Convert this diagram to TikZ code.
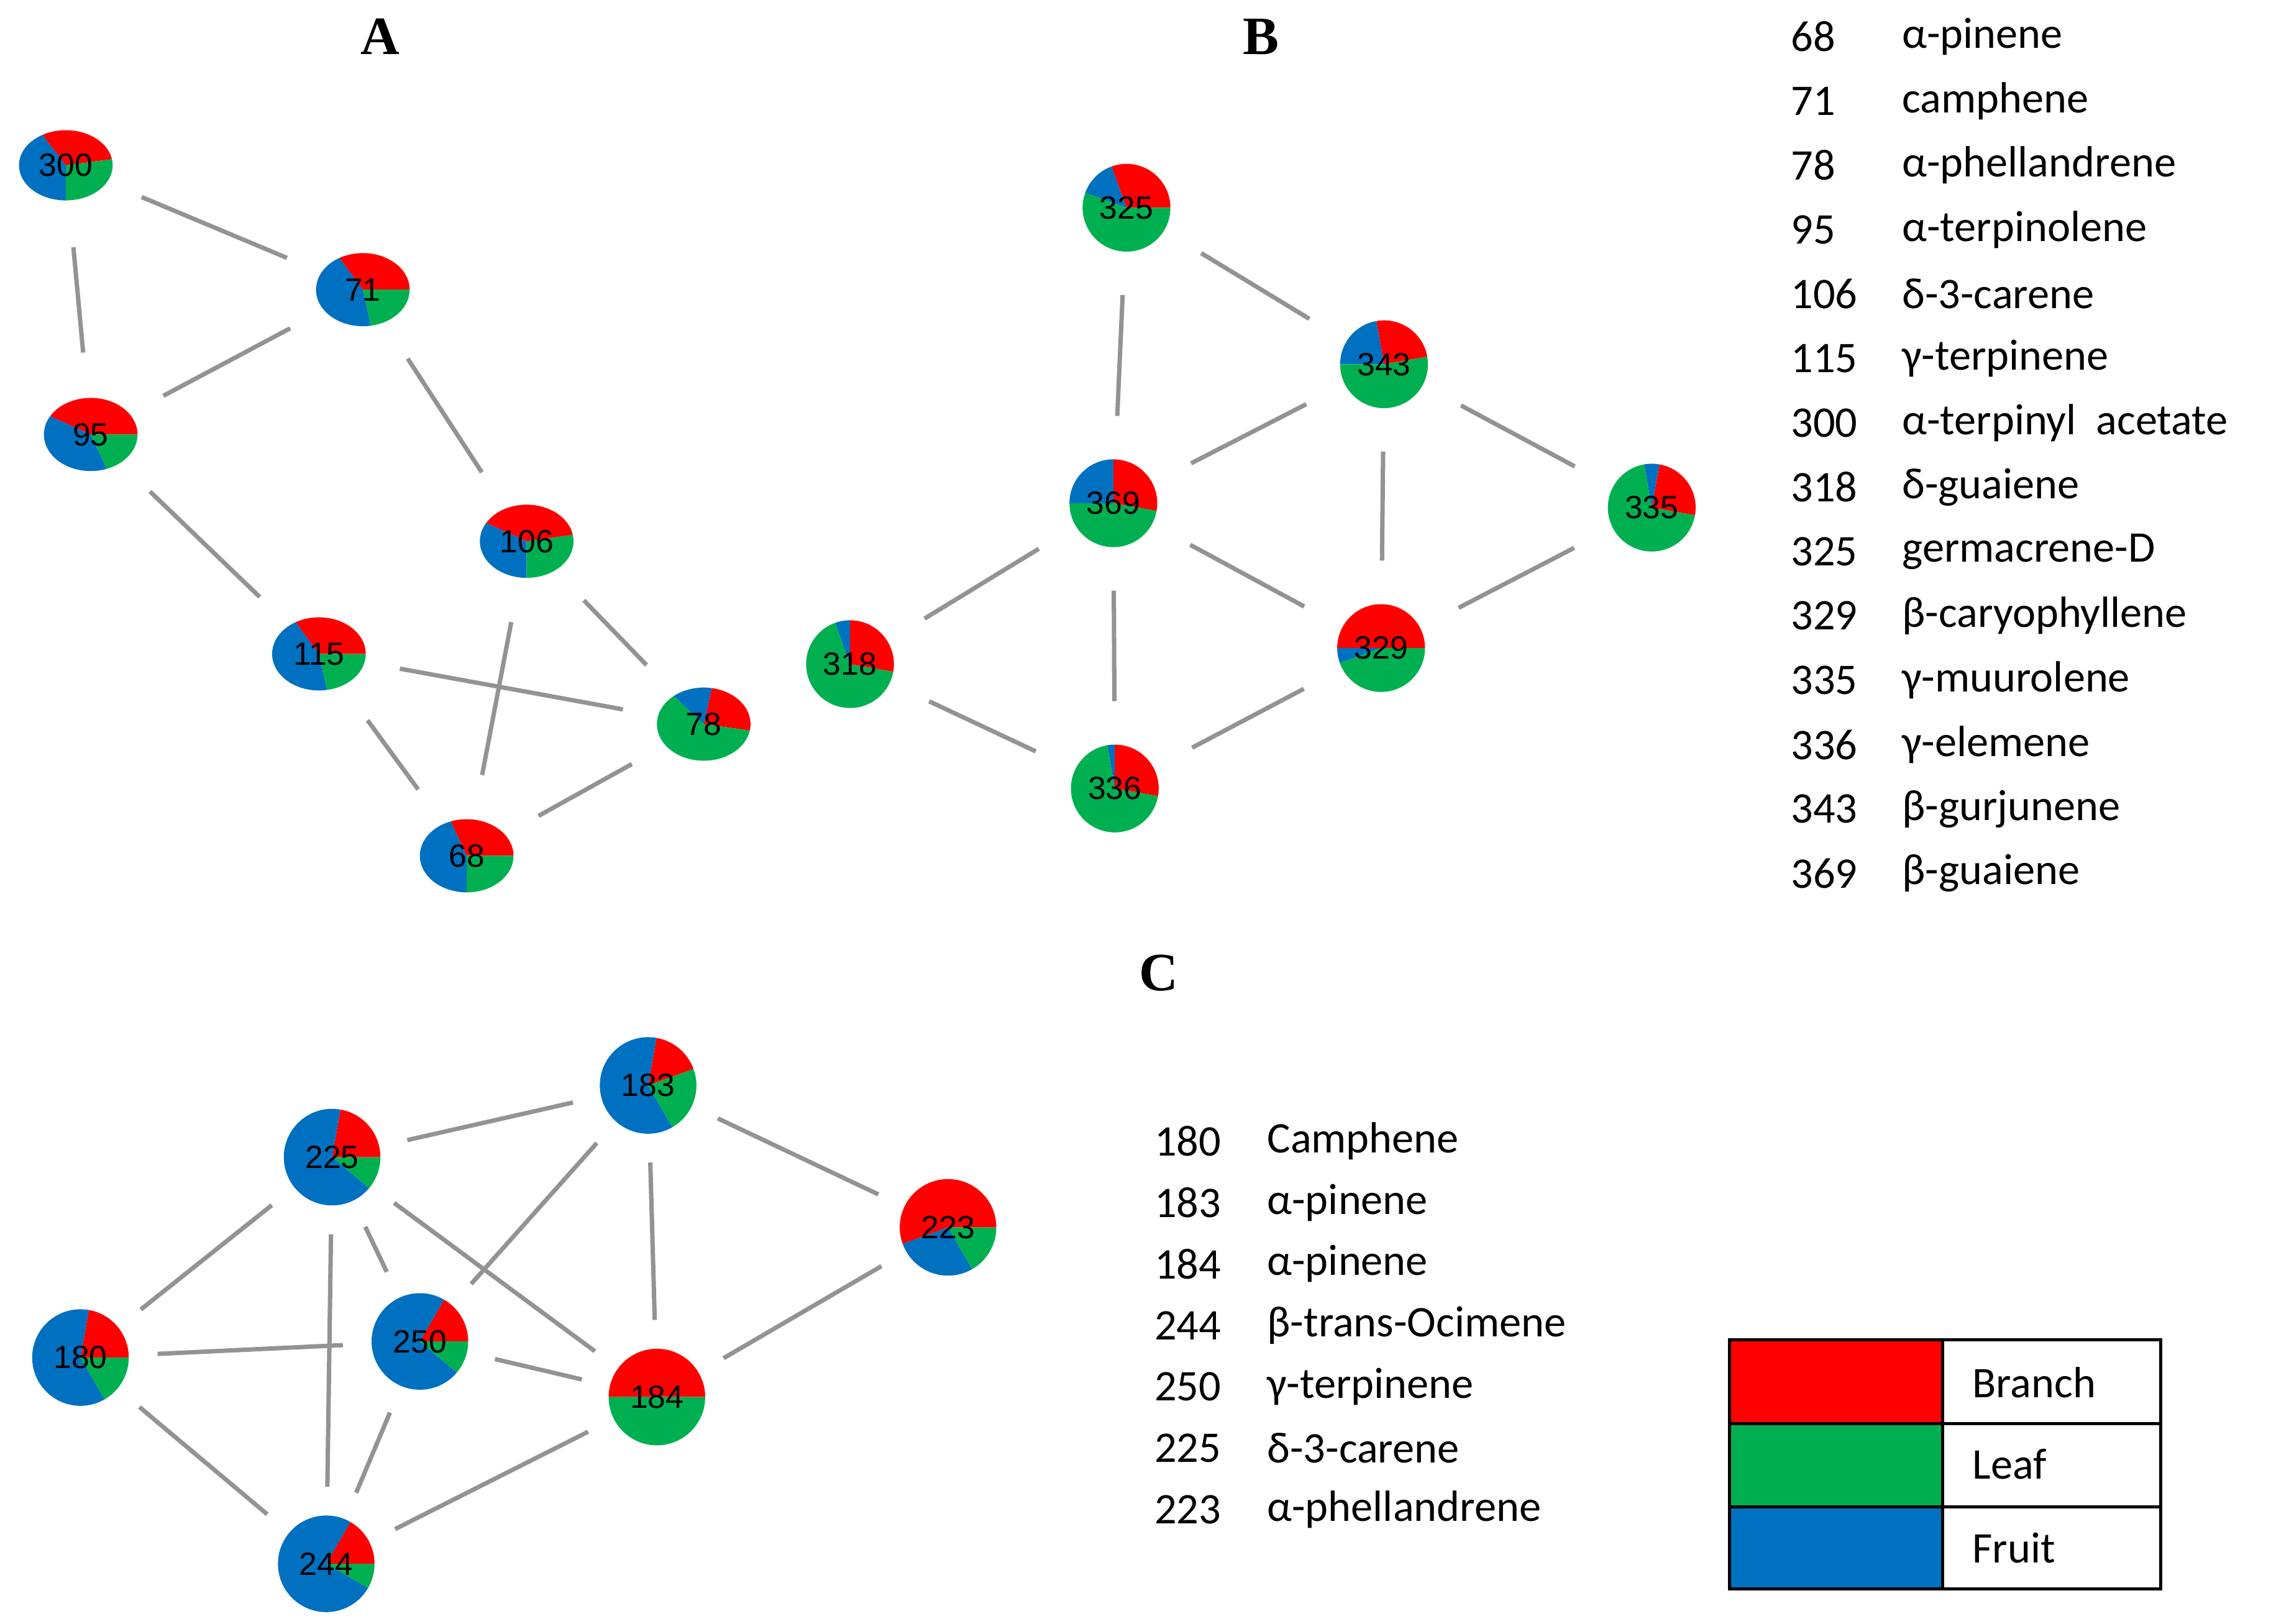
\documentclass[tikz,border=0pt]{standalone}
\usepackage{fontspec}
\setmainfont{Liberation Serif}
\newfontfamily\calfnt{Carlito}
\newfontfamily\arifnt{Liberation Sans}
\definecolor{cR}{RGB}{255,0,0}
\definecolor{cG}{RGB}{0,176,80}
\definecolor{cB}{RGB}{0,112,192}
\newcommand\mypie[8]{%
 \fill[cR] #2 -- ++(#5:#3 and #4) arc[start angle=#5,end angle=#6,x radius=#3,y radius=#4] -- cycle;
 \fill[cB] #2 -- ++(#6:#3 and #4) arc[start angle=#6,end angle=#7,x radius=#3,y radius=#4] -- cycle;
 \fill[cG] #2 -- ++(#7:#3 and #4) arc[start angle=#7,end angle=#5+360,x radius=#3,y radius=#4] -- cycle;
 \node[font=\arifnt\fontsize{12.5}{12.5}\selectfont] (#1) at #2 {#8};}
\begin{document}
\begin{tikzpicture}[x=0.02cm,y=0.02cm,
 ed/.style={draw=gray!85,line width=1.7pt,shorten >=#1,shorten <=#1},ed/.default=38pt,
 lab/.style={font=\bfseries\fontsize{21}{21}\selectfont},
 lt/.style={font=\calfnt\fontsize{17}{17}\selectfont,anchor=west}]
\useasboundingbox (0,0) rectangle (1568,-1110);
\node[lab] (LA) at (260,-25) {A};
\node[lab] (LB) at (862,-25) {B};
\node[lab] (LC) at (792,-665) {C};
% A
\mypie{a300}{(45,-113)}{32}{24}{10}{120}{270}{300}
\mypie{a71}{(248,-198)}{32}{25}{0}{120}{280}{71}
\mypie{a95}{(62,-297)}{32}{25}{0}{150}{290}{95}
\mypie{a106}{(360,-370)}{32}{25}{10}{150}{270}{106}
\mypie{a115}{(218,-447)}{32}{25}{0}{120}{280}{115}
\mypie{a78}{(481,-495)}{32}{25}{-10}{80}{130}{78}
\mypie{a68}{(319,-585)}{32}{25}{0}{110}{270}{68}
\foreach \a/\b in {a300/a71,a300/a95,a95/a71,a71/a106,a95/a115,a106/a78,a106/a68,a115/a78,a115/a68,a68/a78}
 \draw[ed=32pt] (\a.center) -- (\b.center);
% B
\mypie{b325}{(770,-142)}{30}{30}{0}{110}{160}{325}
\mypie{b343}{(946,-249)}{30}{30}{10}{100}{180}{343}
\mypie{b369}{(761,-344)}{30}{30}{-10}{90}{180}{369}
\mypie{b335}{(1129,-347)}{30}{30}{-10}{80}{100}{335}
\mypie{b329}{(944,-443)}{30}{30}{0}{180}{200}{329}
\mypie{b318}{(581,-454)}{30}{30}{-10}{90}{110}{318}
\mypie{b336}{(762,-539)}{30}{30}{-10}{90}{100}{336}
\foreach \a/\b in {b325/b343,b325/b369,b343/b369,b343/b329,b343/b335,b369/b329,b369/b318,b369/b336,b318/b336,b336/b329,b329/b335}
 \draw[ed=34pt] (\a.center) -- (\b.center);
% C
\mypie{c183}{(443,-742)}{33}{33}{20}{80}{300}{183}
\mypie{c225}{(227,-791)}{33}{33}{0}{80}{320}{225}
\mypie{c223}{(648,-839)}{33}{33}{0}{200}{300}{223}
\mypie{c180}{(55,-928)}{33}{33}{0}{80}{300}{180}
\mypie{c250}{(287,-917)}{33}{33}{0}{60}{320}{250}
\mypie{c184}{(449,-955)}{33}{33}{0}{180}{180}{184}
\mypie{c244}{(223,-1069)}{33}{33}{0}{60}{330}{244}
\foreach \a/\b in {c225/c183,c183/c223,c183/c250,c183/c184,c225/c180,c225/c250,c225/c244,c225/c184,c180/c250,c180/c244,c250/c184,c250/c244,c244/c184,c184/c223}
 \draw[ed=30pt] (\a.center) -- (\b.center);
% list B
\foreach \n/\t [count=\i from 0] in {68/α-pinene,71/camphene,78/α-phellandrene,95/α-terpinolene,106/δ-3-carene,115/γ-terpinene,300/{α-terpinyl\ \ acetate},318/δ-guaiene,325/germacrene-D,329/β-caryophyllene,335/γ-muurolene,336/γ-elemene,343/β-gurjunene,369/β-guaiene}{
 \node[lt] (ln\i) at (1218,-25-44*\i) {\n};
 \node[lt] (lt\i) at (1294,-25-44*\i) {\t};}
\foreach \n/\t [count=\i from 0] in {180/Camphene,183/α-pinene,184/α-pinene,244/β-trans-Ocimene,250/γ-terpinene,225/δ-3-carene,223/α-phellandrene}{
 \node[lt] (cn\i) at (783,-780-42*\i) {\n};
 \node[lt] (ct\i) at (860,-780-42*\i) {\t};}
% legend
\fill[cR] (1182,-916) rectangle (1328,-973);
\fill[cG] (1182,-973) rectangle (1328,-1030);
\fill[cB] (1182,-1030) rectangle (1328,-1086);
\draw[line width=1.2pt] (1182,-916) rectangle (1477,-1086) (1182,-973) -- (1477,-973) (1182,-1030) -- (1477,-1030) (1328,-916) -- (1328,-1086);
\node[lt] (g1) at (1342,-945) {Branch};
\node[lt] (g2) at (1342,-1001) {Leaf};
\node[lt] (g3) at (1342,-1058) {Fruit};
\end{tikzpicture}
\end{document}
